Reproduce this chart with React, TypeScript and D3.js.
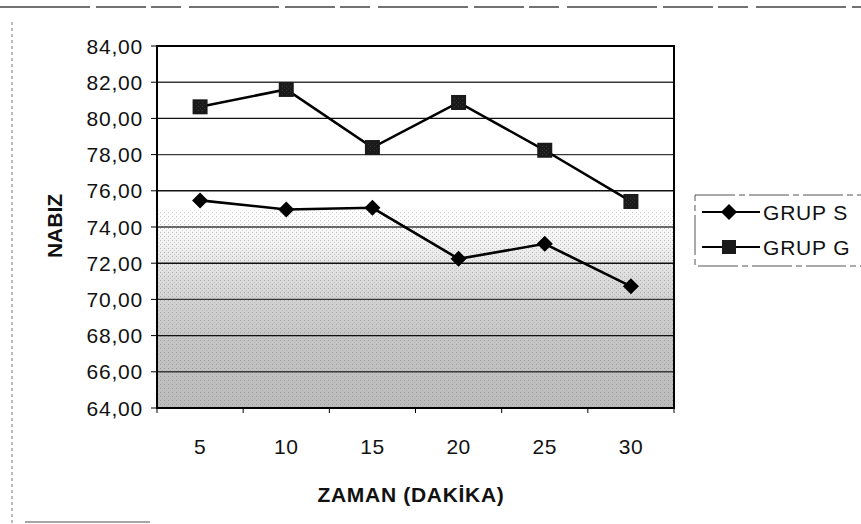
import React from "react";
import * as d3 from "d3";

const categories = ["5", "10", "15", "20", "25", "30"];
const grupS = [75.47, 74.97, 75.06, 72.24, 73.07, 70.72];
const grupG = [80.64, 81.6, 78.39, 80.88, 78.24, 75.41];
const yTicks = [64, 66, 68, 70, 72, 74, 76, 78, 80, 82, 84];
const seriesNames = ["GRUP S", "GRUP G"];

const W = 861;
const H = 524;
const plot = { left: 157, right: 674, top: 46, bottom: 408 };
const font = "'Liberation Sans', Arial, sans-serif";

export default function App() {
  const x = d3
    .scaleBand<string>()
    .domain(categories)
    .range([plot.left, plot.right]);
  const y = d3.scaleLinear().domain([64, 84]).range([plot.bottom, plot.top]);
  const cx = (c: string) => (x(c) as number) + x.bandwidth() / 2;
  const line = d3
    .line<number>()
    .x((_, i) => cx(categories[i]))
    .y((d) => y(d));
  const fmt = (v: number) => v.toFixed(2).replace(".", ",");

  const diamond = (px: number, py: number, s = 8) =>
    `M${px},${py - s}L${px + s},${py}L${px},${py + s}L${px - s},${py}Z`;

  return (
    <svg
      width={W}
      height={H}
      style={{ position: "absolute", left: 0, top: 0, background: "#fff" }}
      fontFamily={font}
    >
      <defs>
        <linearGradient id="bg" x1="0" y1="0" x2="0" y2="1">
          <stop offset="0%" stopColor="#ffffff" />
          <stop offset="47%" stopColor="#ffffff" />
          <stop offset="56%" stopColor="#eeeeee" />
          <stop offset="66%" stopColor="#d8d8d8" />
          <stop offset="80%" stopColor="#c6c6c6" />
          <stop offset="100%" stopColor="#bcbcbc" />
        </linearGradient>
        <pattern id="dots" width="4" height="4" patternUnits="userSpaceOnUse">
          <rect x="0" y="0" width="1" height="1" fill="#555" opacity="0.35" />
          <rect x="2" y="2" width="1" height="1" fill="#888" opacity="0.3" />
        </pattern>
      </defs>

      {/* outer frame fragments */}
      <line x1={0} x2={W} y1={7} y2={7} stroke="#444" strokeWidth={1.5} strokeDasharray="90 6 50 5 30 8" />
      <line x1={12} x2={12} y1={22} y2={H} stroke="#777" strokeWidth={1} strokeDasharray="3 3" />
      <line x1={25} x2={150} y1={522} y2={522} stroke="#888" strokeWidth={1.5} />

      {/* plot background */}
      <rect
        x={plot.left}
        y={plot.top}
        width={plot.right - plot.left}
        height={plot.bottom - plot.top}
        fill="url(#bg)"
      />
      <rect
        x={plot.left}
        y={y(75)}
        width={plot.right - plot.left}
        height={plot.bottom - y(75)}
        fill="url(#dots)"
      />

      {/* gridlines */}
      {yTicks.map((t) => (
        <line
          key={t}
          x1={plot.left}
          x2={plot.right}
          y1={y(t)}
          y2={y(t)}
          stroke={t % 4 === 0 ? "#111" : "#3a3a3a"}
          strokeWidth={1.4}
        />
      ))}

      {/* y ticks & labels */}
      {yTicks.map((t) => (
        <g key={"yt" + t}>
          <line x1={plot.left - 6} x2={plot.left} y1={y(t)} y2={y(t)} stroke="#000" />
          <text
            x={plot.left - 14}
            y={y(t)}
            dy="0.36em"
            textAnchor="end"
            fontSize={21}
            letterSpacing={0.8}
            fill="#111"
          >
            {fmt(t)}
          </text>
        </g>
      ))}

      {/* x ticks & labels */}
      {categories.map((c) => (
        <g key={"xt" + c}>
          <line
            x1={x(c) as number}
            x2={x(c) as number}
            y1={plot.bottom}
            y2={plot.bottom + 5}
            stroke="#000"
          />
          <text
            x={cx(c)}
            y={446}
            dy="0.36em"
            textAnchor="middle"
            fontSize={21}
            letterSpacing={0.5}
            fill="#111"
          >
            {c}
          </text>
        </g>
      ))}
      <line x1={plot.right} x2={plot.right} y1={plot.bottom} y2={plot.bottom + 5} stroke="#000" />

      {/* plot border */}
      <rect
        x={plot.left}
        y={plot.top}
        width={plot.right - plot.left}
        height={plot.bottom - plot.top}
        fill="none"
        stroke="#000"
        strokeWidth={2}
      />

      {/* series lines */}
      <path d={line(grupS) || ""} fill="none" stroke="#000" strokeWidth={2.6} />
      <path d={line(grupG) || ""} fill="none" stroke="#000" strokeWidth={2.6} />

      {grupS.map((v, i) => (
        <path key={"s" + i} d={diamond(cx(categories[i]), y(v))} fill="#000" />
      ))}
      {grupG.map((v, i) => (
        <g key={"g" + i}>
          <rect
            x={cx(categories[i]) - 7.5}
            y={y(v) - 7.5}
            width={15}
            height={15}
            fill="#1a1a1a"
          />
          <rect
            x={cx(categories[i]) - 5}
            y={y(v) - 5}
            width={10}
            height={10}
            fill="url(#dots)"
          />
        </g>
      ))}

      {/* axis titles */}
      <text
        x={411}
        y={494}
        dy="0.36em"
        textAnchor="middle"
        fontSize={21}
        letterSpacing={0.7}
        fontWeight="bold"
        fill="#111"
      >
        ZAMAN (DAKİKA)
      </text>
      <text
        transform={`translate(54,226) rotate(-90)`}
        dy="0.36em"
        textAnchor="middle"
        fontSize={21}
        fontWeight="bold"
        fill="#111"
      >
        NABIZ
      </text>

      {/* legend */}
      <rect
        x={695}
        y={195}
        width={175}
        height={71}
        fill="#fff"
        stroke="#555"
        strokeWidth={1}
        strokeDasharray="40 4 6 4"
      />
      {seriesNames.map((name, i) => {
        const ly = 212 + i * 35;
        return (
          <g key={name}>
            <line x1={702} x2={760} y1={ly} y2={ly} stroke="#000" strokeWidth={2} />
            {i === 0 ? (
              <path d={diamond(729, ly, 8)} fill="#000" />
            ) : (
              <rect x={722} y={ly - 7} width={14} height={14} fill="#1a1a1a" />
            )}
            <text x={763} y={ly} dy="0.36em" fontSize={21} letterSpacing={0.8} fill="#111">
              {name}
            </text>
          </g>
        );
      })}
    </svg>
  );
}
